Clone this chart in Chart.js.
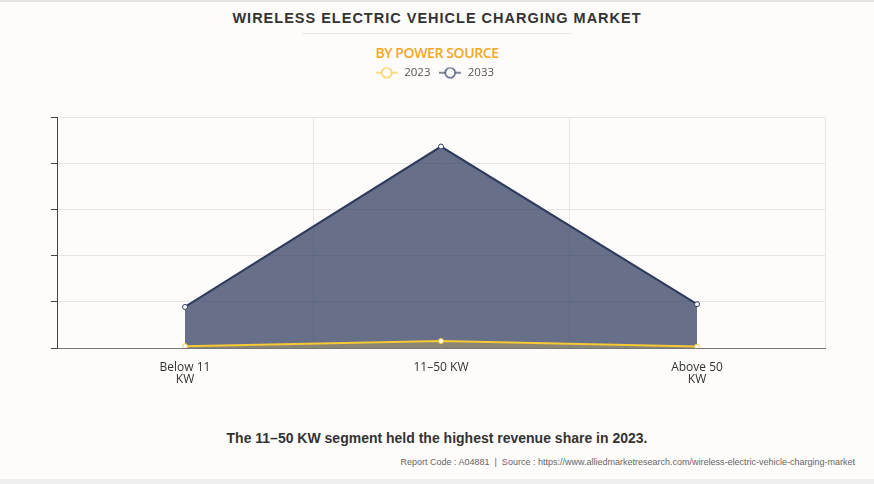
<!DOCTYPE html>
<html>
<head>
<meta charset="utf-8">
<script src="https://cdn.jsdelivr.net/npm/chart.js@4.4.0/dist/chart.umd.min.js"></script>
<style>
  html, body { margin:0; padding:0; }
  body { width:874px; height:484px; background:#fdfcfb; position:relative; overflow:hidden; font-family:"Liberation Sans", Arial, sans-serif; }
  .topline { position:absolute; left:0; top:0; width:874px; height:2px; background:#e4e4e4; }
  .botline { position:absolute; left:0; top:479px; width:874px; height:5px; background:#efefef; }
  #title { position:absolute; left:0; width:874px; top:10px; text-align:center; font-weight:bold; font-size:14.5px; letter-spacing:1px; color:#333; }
  #rule { position:absolute; left:302px; top:33px; width:270px; height:1px; background:#e8e8e8; }
  #sub { position:absolute; left:0; width:874px; top:43px; text-align:center; font-family:"Open Sans", sans-serif; font-weight:600; font-size:14px; color:#f5a623; letter-spacing:-0.4px; }
  #wrap { position:absolute; left:0; top:53px; width:874px; height:347px; }
  #caption { position:absolute; left:0; width:874px; top:430px; text-align:center; font-weight:bold; font-size:14px; color:#333; }
  #footer { position:absolute; right:19px; top:457px; font-size:9px; color:#666; }
</style>
</head>
<body>
<div class="topline"></div>
<div id="title">WIRELESS ELECTRIC VEHICLE CHARGING MARKET</div>
<div id="rule"></div>
<div id="sub">BY POWER SOURCE</div>
<div id="wrap"><canvas id="chart" width="874" height="347"></canvas></div>
<div id="caption">The 11–50 KW segment held the highest revenue share in 2023.</div>
<div id="footer">Report Code : A04881 &nbsp;|&nbsp; Source : https://www.alliedmarketresearch.com/wireless-electric-vehicle-charging-market</div>
<div class="botline"></div>
<script>
const categories = [['Below 11', 'KW'], '11–50 KW', ['Above 50', 'KW']];
const seriesNames = ['2023', '2033'];
const values2023 = [0.04, 0.15, 0.03];
const values2033 = [0.89, 4.37, 0.95];
const yTicks = [0, 1, 2, 3, 4, 5];

const c2023 = '#f7c934';
const c2033 = '#2f3b5e';

function legendIcon(color) {
  const cv = document.createElement('canvas');
  cv.width = 22; cv.height = 12;
  const g = cv.getContext('2d');
  g.strokeStyle = color; g.lineWidth = 1.2;
  g.beginPath(); g.moveTo(0, 6); g.lineTo(22, 6); g.stroke();
  g.fillStyle = '#fdfcfb';
  g.beginPath(); g.arc(11, 6, 5, 0, Math.PI * 2); g.fill(); g.stroke();
  return cv;
}

// push the plot area down below the legend
const legendGap = {
  id: 'legendGap',
  beforeInit(chart) {
    const fit = chart.legend.fit;
    chart.legend.fit = function () { fit.bind(chart.legend)(); this.height += 29; };
  }
};

new Chart(document.getElementById('chart'), {
  type: 'line',
  data: {
    labels: categories,
    datasets: [
      { label: seriesNames[0], data: values2023, borderColor: c2023, borderWidth: 2,
        backgroundColor: 'rgba(247,201,52,0.25)', fill: 'origin', tension: 0,
        pointRadius: 2.5, pointBackgroundColor: '#fff', pointBorderColor: c2023, pointBorderWidth: 1 },
      { label: seriesNames[1], data: values2033, borderColor: c2033, borderWidth: 2,
        backgroundColor: 'rgba(47,59,94,0.73)', fill: 'origin', tension: 0,
        pointRadius: 2.5, pointBackgroundColor: '#fff', pointBorderColor: c2033, pointBorderWidth: 1 }
    ]
  },
  plugins: [legendGap],
  options: {
    responsive: false,
    animation: false,
    layout: { padding: { left: 50, right: 49, top: 0, bottom: 0 } },
    plugins: {
      tooltip: { enabled: false },
      legend: {
        position: 'top',
        labels: {
          usePointStyle: true,
          color: '#555',
          font: { family: 'Open Sans', size: 11.5 },
          padding: 14,
          boxHeight: 12,
          generateLabels: chart => chart.data.datasets.map((d, i) => ({
            text: '  ' + d.label,
            pointStyle: legendIcon(d.borderColor),
            fillStyle: d.borderColor,
            strokeStyle: d.borderColor,
            lineWidth: 0,
            hidden: false,
            datasetIndex: i,
            fontColor: '#555'
          }))
        }
      }
    },
    scales: {
      x: {
        offset: true,
        grid: { offset: true, color: '#e6e6e6', drawTicks: false },
        border: { color: '#777', width: 1 },
        ticks: { color: '#333', font: { family: 'Open Sans', size: 12, lineHeight: 1 }, padding: 14, maxRotation: 0, autoSkip: false },
        afterFit: s => { s.height = 52; }
      },
      y: {
        min: 0, max: 5,
        afterBuildTicks: s => { s.ticks = yTicks.map(v => ({ value: v })); },
        grid: { color: '#e6e6e6', tickLength: 6, tickColor: '#444' },
        border: { color: '#444', width: 1 },
        ticks: { display: true, callback: () => '', padding: 0 },
        afterFit: s => { s.width = 7; }
      }
    }
  }
});
</script>
</body>
</html>
